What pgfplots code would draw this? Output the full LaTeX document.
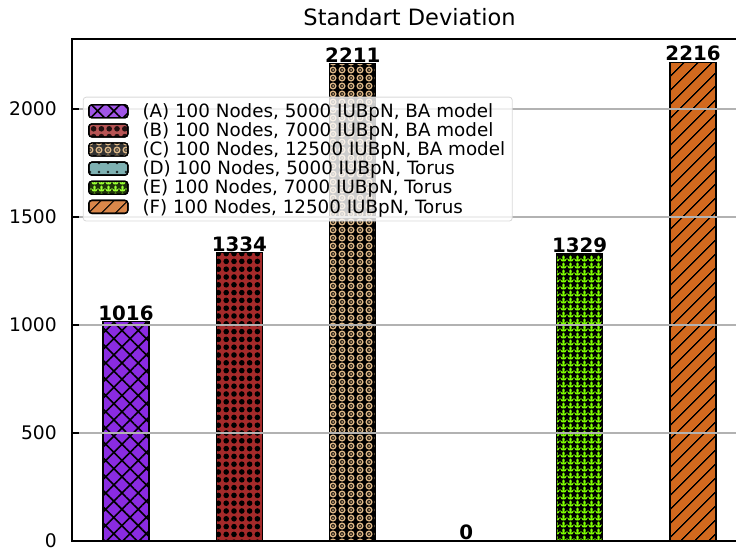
\documentclass[border=0pt]{standalone}
\usepackage{pgfplots}
\pgfplotsset{compat=1.18}
\usepackage{fontspec}
\setmainfont{DejaVu Sans}
\usetikzlibrary{patterns,patterns.meta}

\definecolor{cA}{RGB}{138,43,226}
\definecolor{cB}{RGB}{165,42,42}
\definecolor{cC}{RGB}{222,184,135}
\definecolor{cD}{RGB}{95,158,160}
\definecolor{cE}{RGB}{127,255,0}
\definecolor{cF}{RGB}{210,105,30}

\pgfdeclarepattern{
  name=myrings, type=uncolored,
  bottom left={\pgfpoint{-4.5pt}{-4pt}},
  top right={\pgfpoint{4.5pt}{4pt}},
  tile size={\pgfpoint{9pt}{8pt}},
  code={\pgfsetlinewidth{1.4pt}\pgfpathcircle{\pgfpointorigin}{2.8pt}\pgfusepath{stroke}%
        \pgfpathcircle{\pgfpointorigin}{1pt}\pgfusepath{fill}}
}
\pgfdeclarepattern{
  name=mystars, type=uncolored,
  bottom left={\pgfpoint{-3.5pt}{-3.5pt}},
  top right={\pgfpoint{3.5pt}{3.5pt}},
  tile size={\pgfpoint{7pt}{7pt}},
  code={%
    \pgfpathmoveto{\pgfpointpolar{90}{4.6pt}}%
    \pgfpathlineto{\pgfpointpolar{126}{2.2pt}}%
    \pgfpathlineto{\pgfpointpolar{162}{4.6pt}}%
    \pgfpathlineto{\pgfpointpolar{198}{2.2pt}}%
    \pgfpathlineto{\pgfpointpolar{234}{4.6pt}}%
    \pgfpathlineto{\pgfpointpolar{270}{2.2pt}}%
    \pgfpathlineto{\pgfpointpolar{306}{4.6pt}}%
    \pgfpathlineto{\pgfpointpolar{342}{2.2pt}}%
    \pgfpathlineto{\pgfpointpolar{18}{4.6pt}}%
    \pgfpathlineto{\pgfpointpolar{54}{2.2pt}}%
    \pgfpathclose\pgfusepath{fill}}
}
\newcommand{\fs}{\fontsize{18.7pt}{22pt}\selectfont}

\begin{document}
\begin{tikzpicture}[font=\fs]
\useasboundingbox (-72pt,-9pt) rectangle (664pt,541pt);
\clip (-72pt,-9pt) rectangle (664pt,541pt);
\begin{axis}[
  at={(0pt,0pt)}, anchor=south west,
  scale only axis, width=675pt, height=502pt,
  xmin=-0.476, xmax=5.476, ymin=0, ymax=2324,
  xtick=\empty,
  ytick={0,500,1000,1500,2000},
  tick pos=left,
  /pgf/number format/assume math mode=true,
  /pgf/number format/1000 sep={},
  yticklabel style={font=\fs, inner sep=0pt, xshift=-15pt},
  major tick length=7pt,
  tick style={line width=1.1pt, black},
  axis line style={line width=1.2pt},
  ymajorgrids,
  grid style={line width=1.1pt, color=black!30},
  axis on top,
  title={Standart Deviation},
  title style={at={(0.5,1)}, anchor=base, yshift=7pt, inner sep=0pt,
    font=\fontsize{22.5pt}{26pt}\selectfont},
  ybar, bar width=0.405, bar shift=0pt,
  nodes near coords,
  nodes near coords style={font=\fontsize{19.8pt}{23pt}\selectfont\bfseries, anchor=south, inner sep=0.5pt},
  every axis plot/.append style={draw=black, line width=1.3pt},
  legend cell align=left,
  legend image code/.code={\draw[#1, line width=1.3pt] (0pt,-6.5pt) rectangle (39pt,6.5pt);},
  legend style={at={(0.016,0.885)}, anchor=north west,
    draw=black!15, line width=0.8pt, rounded corners=3pt,
    fill=white, fill opacity=0.8, text opacity=1,
    font=\fontsize{18.3pt}{22pt}\selectfont,
    row sep=-0.3pt, inner xsep=5pt, inner ysep=4.5pt,
    nodes={inner sep=2pt},
    /tikz/every odd column/.append style={column sep=12pt}},
]
\addplot[fill=cA, postaction={pattern={Hatch[angle=45,distance=11.5pt,line width=1.6pt]}}] coordinates {(0,1016)};
\addlegendentry{(A) 100 Nodes, 5000 IUBpN, BA model}
\addplot[fill=cB, postaction={pattern={Dots[distance=7.8pt,radius=2.8pt]}}] coordinates {(1,1334)};
\addlegendentry{(B) 100 Nodes, 7000 IUBpN, BA model}
\addplot[fill=black, postaction={pattern=myrings, pattern color=cC}] coordinates {(2,2211)};
\addlegendentry{(C) 100 Nodes, 12500 IUBpN, BA model}
\addplot[fill=cD, postaction={pattern={Dots[distance=9pt,radius=1.3pt]}}] coordinates {(3,0)};
\addlegendentry{(D) 100 Nodes, 5000 IUBpN, Torus}
\addplot[fill=cE, postaction={pattern=mystars}] coordinates {(4,1329)};
\addlegendentry{(E) 100 Nodes, 7000 IUBpN, Torus}
\addplot[fill=cF, postaction={pattern={Lines[angle=45,distance=10.5pt,line width=1.5pt]}}] coordinates {(5,2216)};
\addlegendentry{(F) 100 Nodes, 12500 IUBpN, Torus}
\end{axis}
\end{tikzpicture}
\end{document}
